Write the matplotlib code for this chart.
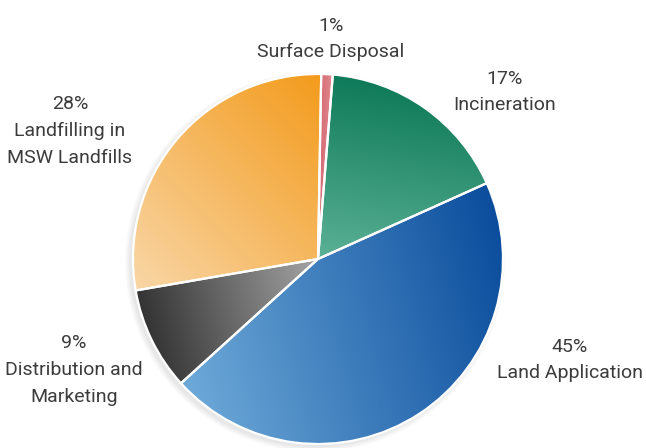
import numpy as np
import matplotlib
matplotlib.use("Agg")
import matplotlib.pyplot as plt
from matplotlib.colors import LinearSegmentedColormap

# data
labels = ["Surface Disposal", "Incineration", "Land Application",
          "Distribution and\nMarketing", "Landfilling in\nMSW Landfills"]
shares = [1, 17, 45, 9, 28]

# (dark, light, direction the light end points to, degrees)
shades = [
    ("#d4676f", "#e08a90", 0),
    ("#0e7a58", "#5bb195", -100),
    ("#0a4c9c", "#6eaad9", 195),
    ("#333333", "#a5a5a5", 15),
    ("#f39b1c", "#f9d6a6", 225),
]

# label anchor points in pixels (image coords, y down)
label_pos = [(331, 39), (505, 92), (570, 360), (74, 370), (70, 131)]

W, H = 646, 448
cx, cy, R = 318, H - 259, 185

plt.rcParams["font.family"] = ["Roboto", "DejaVu Sans"]

fig = plt.figure(figsize=(W / 100, H / 100), dpi=100)
ax = fig.add_axes([0, 0, 1, 1])

# soft shadow behind the pie, mostly to the lower left
for k in range(6):
    ax.add_patch(plt.Circle((cx - 3, cy - 3), R + k * 1.0,
                            color="#000000", alpha=0.015, lw=0, zorder=0))

wedges, _ = ax.pie(shares, center=(cx, cy), radius=R, startangle=89,
                   counterclock=False,
                   wedgeprops=dict(edgecolor="white", linewidth=1.6),
                   frame=True)
ax.set_xlim(0, W)
ax.set_ylim(0, H)
ax.set_aspect("equal")
ax.axis("off")

# gradient fill clipped to each wedge
xs = np.linspace(cx - R, cx + R, 400)
ys = np.linspace(cy - R, cy + R, 400)
X, Y = np.meshgrid(xs, ys)
for w, (dark, light, ang) in zip(wedges, shades):
    d = np.array([np.cos(np.radians(ang)), np.sin(np.radians(ang))])
    verts = w.get_path().vertices
    proj = verts @ d
    lo, hi = proj.min(), proj.max()
    t = np.clip((X * d[0] + Y * d[1] - lo) / (hi - lo + 1e-9), 0, 1)
    cmap = LinearSegmentedColormap.from_list("g", [dark, light])
    im = ax.imshow(t, cmap=cmap, origin="lower",
                   extent=(cx - R, cx + R, cy - R, cy + R),
                   interpolation="bilinear", zorder=2)
    im.set_clip_path(w)
    w.set_facecolor("none")
    w.set_zorder(3)

for lab, val, (px, py) in zip(labels, shares, label_pos):
    ax.text(px, H - py, f"{val}%\n{lab}", ha="center", va="center",
            fontsize=14, color="#3c3c3c", linespacing=1.62, zorder=5)

fig.savefig("out.png", dpi=100)
